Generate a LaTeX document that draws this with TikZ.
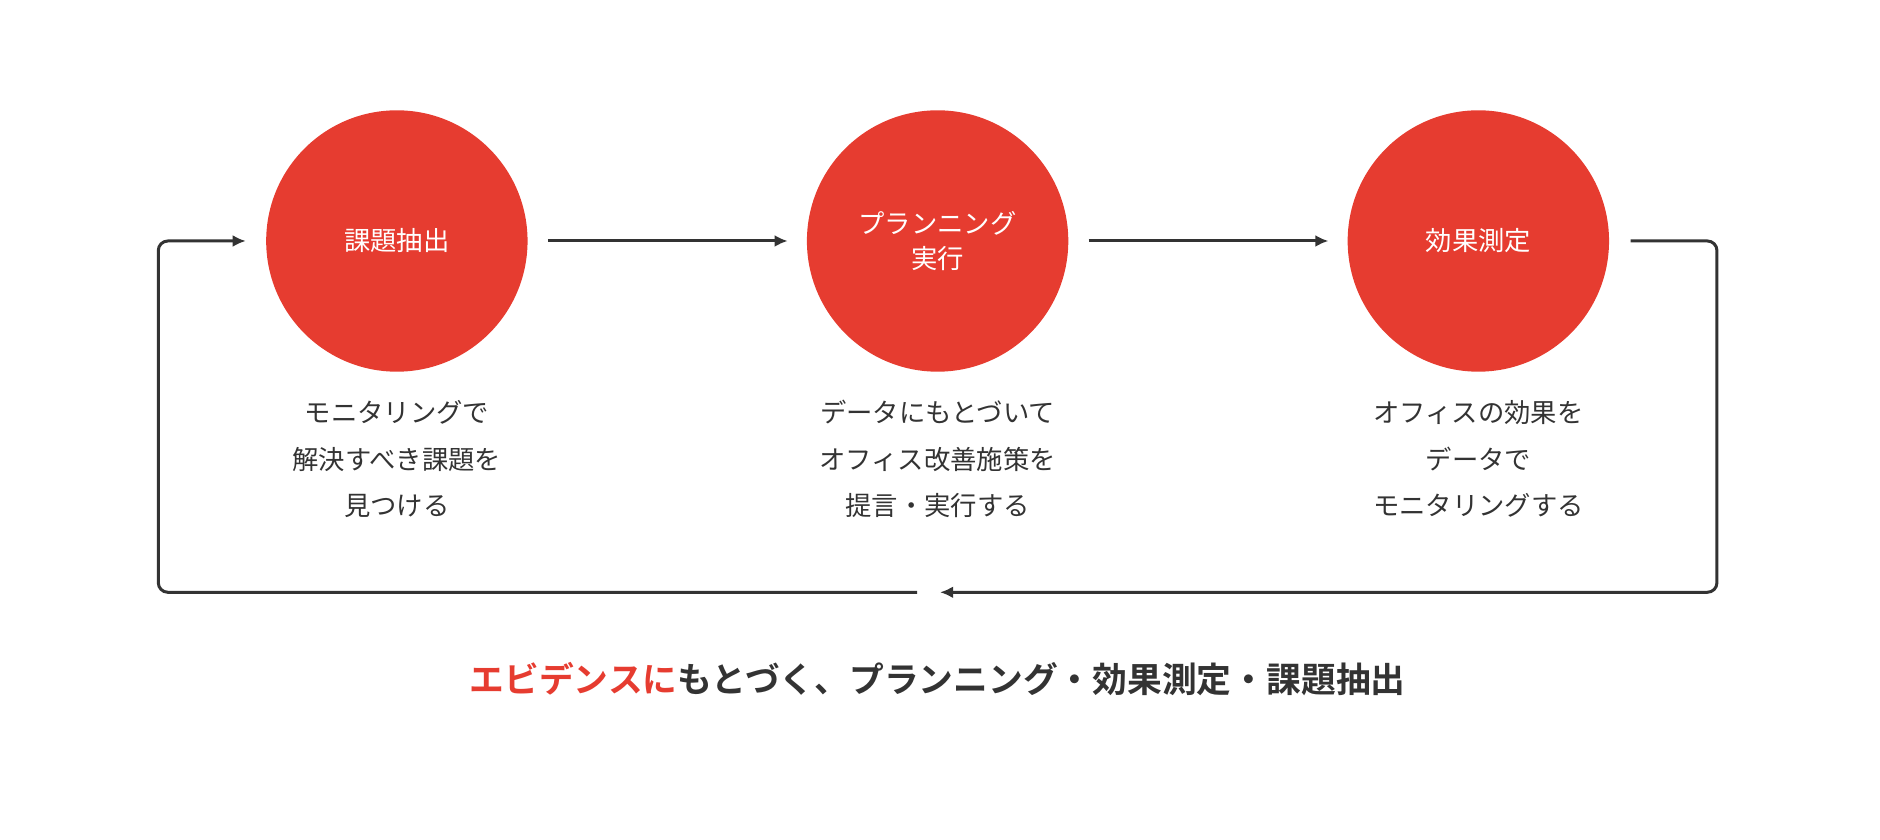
\documentclass[tikz,border=0pt]{standalone}
\usepackage{fontspec}
\setmainfont{Noto Sans CJK JP}
\newfontfamily\boldcjk{Noto Sans CJK JP Bold}
\usetikzlibrary{arrows.meta}
\definecolor{cred}{HTML}{E63C30}
\definecolor{ctext}{HTML}{333333}
\begin{document}
\begin{tikzpicture}[x=0.2mm,y=-0.2mm,
  stage/.style={circle,fill=cred,minimum size=43.6mm,inner sep=0pt,text=white,font=\fontsize{12.5}{17}\selectfont,align=center},
  desc/.style={text=ctext,font=\fontsize{12.5}{22}\selectfont,align=center},
  conn/.style={draw=ctext,line width=0.5mm,-{Latex[length=2.2mm,width=2mm]},rounded corners=1.6mm}]
\useasboundingbox (0,0) rectangle (1568,700);
\node[stage] (a) at (331,201) {課題抽出};
\node[stage] (b) at (782,201) {プランニング\\実行};
\node[stage] (c) at (1233,201) {効果測定};
\node[desc] (da) at (331,383) {モニタリングで\\解決すべき課題を\\見つける};
\node[desc] (db) at (782,383) {データにもとづいて\\オフィス改善施策を\\提言・実行する};
\node[desc] (dc) at (1233,383) {オフィスの効果を\\データで\\モニタリングする};
\coordinate (a1) at (457,201); \coordinate (a2) at (657,201);
\coordinate (b1) at (908,201); \coordinate (b2) at (1108,201);
\coordinate (c1) at (1360,201); \coordinate (m1) at (784,494);
\coordinate (m2) at (765,494); \coordinate (e) at (205,201);
\draw[conn] (a1) -- (a2);
\draw[conn] (b1) -- (b2);
\draw[conn] (c1) -- (1432,201) -- (1432,494) -- (m1);
\draw[conn] (m2) -- (132,494) -- (132,201) -- (e);
\node[font=\boldcjk\fontsize{16.5}{20}\selectfont,text=ctext] (t) at (782,566) {\textcolor{cred}{エビデンスに}もとづく、プランニング・効果測定・課題抽出};
\end{tikzpicture}
\end{document}
